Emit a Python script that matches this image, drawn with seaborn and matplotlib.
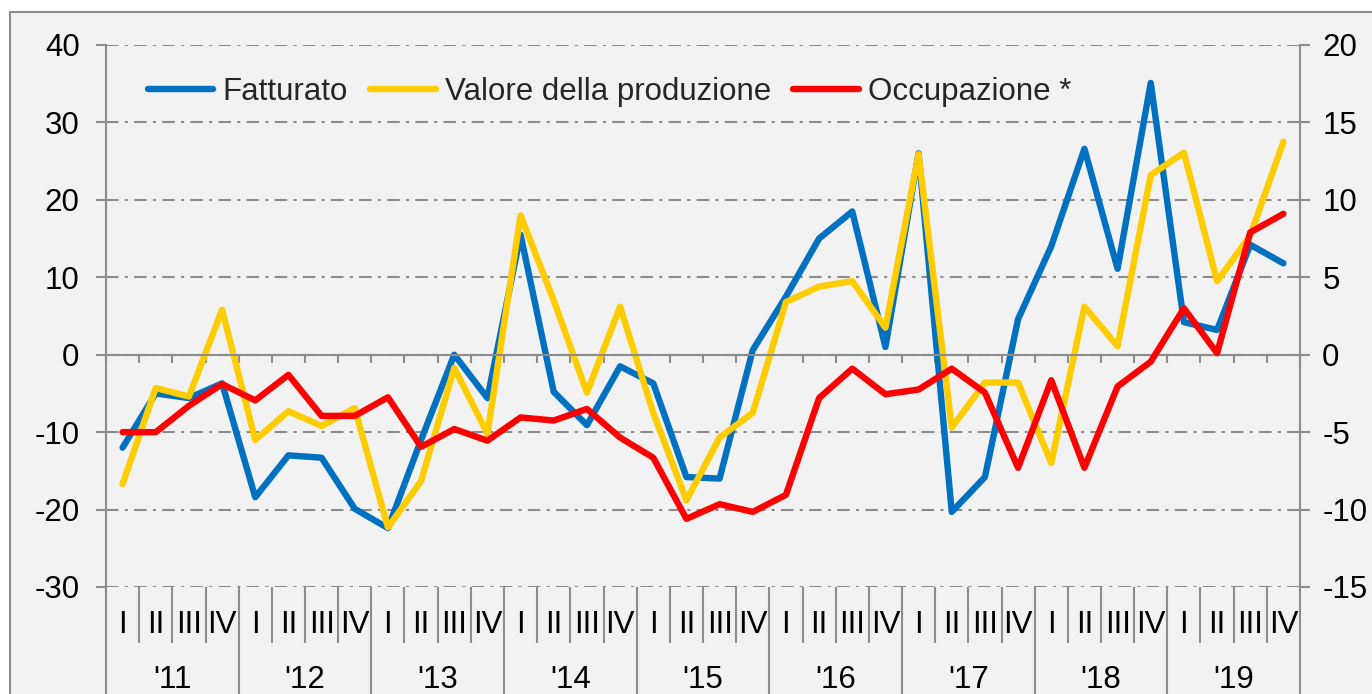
import numpy as np
import pandas as pd
import matplotlib
matplotlib.use("Agg")
import matplotlib.pyplot as plt
import matplotlib.transforms as mtransforms
from matplotlib.patches import Rectangle
import seaborn as sns

# ---------------- data ----------------
years = ["'11", "'12", "'13", "'14", "'15", "'16", "'17", "'18", "'19"]
quarters = ["I", "II", "III", "IV"]

fatturato = [-12, -5, -5.6, -3.7, -18.4, -13, -13.3, -19.9,
             -22.4, -11, 0, -5.6, 15.5, -4.8, -9.1, -1.5,
             -3.7, -15.8, -16, 0.6, 7.5, 15, 18.5, 1,
             26, -20.3, -15.8, 4.6, 14, 26.6, 11.1, 35.1,
             4.2, 3.2, 14.2, 11.8]
valore = [-16.7, -4.3, -5.4, 5.8, -11, -7.3, -9.2, -6.9,
          -22.3, -16.3, -1.7, -10.2, 18, 7, -4.9, 6.2,
          -7.5, -18.8, -10.7, -7.5, 6.8, 8.8, 9.5, 3.5,
          25.9, -9.4, -3.6, -3.6, -14, 6.2, 1.1, 23.2,
          26.1, 9.5, 15.4, 27.5]
# Occupazione is read on the right-hand axis
occupazione = [-5, -5, -3.3, -1.9, -2.95, -1.3, -3.95, -3.95,
               -2.75, -5.95, -4.8, -5.55, -4.05, -4.25, -3.5, -5.35,
               -6.65, -10.6, -9.65, -10.15, -9.05, -2.8, -0.9, -2.55,
               -2.25, -0.9, -2.45, -7.3, -1.65, -7.3, -2.05, -0.45,
               3.0, 0.1, 7.9, 9.1]

labels = ["Fatturato", "Valore della produzione", "Occupazione *"]
colors = ["#0070C0", "#FFCC00", "#FF0000"]

n = len(fatturato)
df = pd.DataFrame({"pos": np.arange(n),
                   "Fatturato": fatturato,
                   "Valore": valore,
                   "Occupazione": occupazione})

# ---------------- style ----------------
sns.set_theme(style="white")
plt.rcParams['font.family'] = ['Liberation Sans', 'DejaVu Sans']
plt.rcParams['axes.unicode_minus'] = False
GRAY = "#8C8C8C"
FS = 22.5
LW = 4.6

W, H = 1372, 694
fig = plt.figure(figsize=(W / 100, H / 100), dpi=100)
fig.patch.set_facecolor("white")
frame = Rectangle((10 / W, -0.1), 1.2, (H - 12) / H + 0.1,
                  transform=fig.transFigure, facecolor="#F2F2F2",
                  edgecolor=GRAY, lw=1.5, zorder=-5)
fig.add_artist(frame)

ax = fig.add_axes([106 / W, 1 - 587 / H, 1194 / W, 542 / H])
ax.set_facecolor("none")

sns.lineplot(data=df, x="pos", y="Fatturato", ax=ax, color=colors[0],
             lw=LW, label=labels[0])
sns.lineplot(data=df, x="pos", y="Valore", ax=ax, color=colors[1],
             lw=LW, label=labels[1])

ax2 = ax.twinx()
ax2.set_facecolor("none")
sns.lineplot(data=df, x="pos", y="Occupazione", ax=ax2, color=colors[2],
             lw=LW, label=labels[2])

for a in (ax, ax2):
    if a.get_legend() is not None:
        a.get_legend().remove()
    a.set_xlabel("")
    a.set_ylabel("")

ax.set_xlim(-0.5, n - 0.5)
ax.set_ylim(-30, 40)
ax2.set_ylim(-15, 20)
ax.set_yticks(np.arange(-30, 41, 10))
ax2.set_yticks(np.arange(-15, 21, 5))

# spines
for s in ("top", "right"):
    ax.spines[s].set_visible(False)
ax.spines["left"].set_color(GRAY)
ax.spines["left"].set_linewidth(1.5)
ax.spines["bottom"].set_position(("data", 0))
ax.spines["bottom"].set_color(GRAY)
ax.spines["bottom"].set_linewidth(1.5)
for s in ("top", "left", "bottom"):
    ax2.spines[s].set_visible(False)
ax2.spines["right"].set_color(GRAY)
ax2.spines["right"].set_linewidth(1.5)

ax.set_xticks(np.arange(-0.5, n, 1))
ax.tick_params(axis="x", direction="out", length=6, width=1.5, color=GRAY,
               labelbottom=False, bottom=True)
ax.tick_params(axis="y", direction="out", length=7, width=1.5, color=GRAY,
               labelsize=FS, pad=12, left=True, labelcolor="black")
ax2.tick_params(axis="y", direction="out", length=7, width=1.5, color=GRAY,
                labelsize=FS, pad=9, right=True, labelcolor="black")

ax.grid(axis="y", color=GRAY, lw=1.5, linestyle=(0, (6, 3, 1.5, 3)))
ax.grid(axis="x", visible=False)
ax2.grid(False)
ax.set_axisbelow(True)

# category labels below the plot
trans = mtransforms.blended_transform_factory(ax.transData, ax.transAxes)
for k in range(n + 1):
    x = k - 0.5
    yb = -0.25 if k % 4 == 0 else -0.103
    ax.plot([x, x], [0, yb], transform=trans, clip_on=False,
            color=GRAY, lw=1.5, solid_capstyle="butt")
for i in range(n):
    ax.text(i, -0.0694, quarters[i % 4], transform=trans, ha="center",
            va="center", fontsize=FS, color="black")
for j, yl in enumerate(years):
    ax.text(4 * j + 1.5, -0.172, yl, transform=trans, ha="center",
            va="center", fontsize=FS, color="black")

# legend
handles = ax.get_lines()[:2] + ax2.get_lines()[:1]
leg = ax2.legend(handles, labels, loc="center left",
                 bbox_to_anchor=(0.035, 0.914), borderaxespad=0,
                 borderpad=0, frameon=False, ncol=3, fontsize=FS,
                 handlelength=2.1, handletextpad=0.3, columnspacing=0.7)

fig.savefig("out.png", dpi=100, facecolor=fig.get_facecolor())
